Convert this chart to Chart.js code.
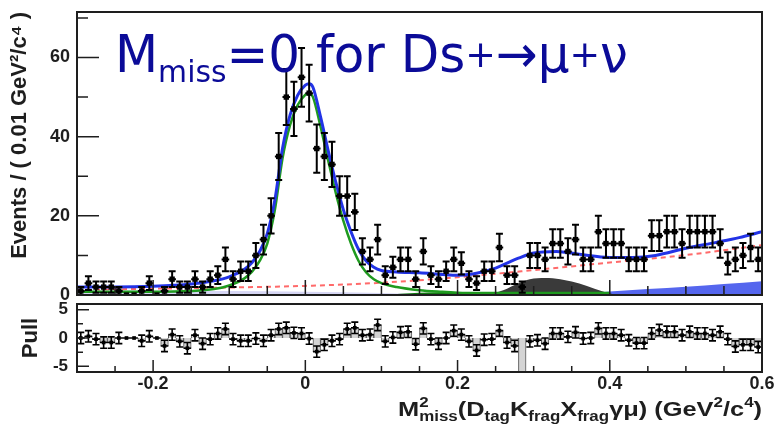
<!DOCTYPE html>
<html>
<head>
<meta charset="utf-8">
<script src="https://cdn.jsdelivr.net/npm/chart.js@4.4.0/dist/chart.umd.min.js"></script>
<style>
  html, body { margin: 0; padding: 0; background: #fff; }
  #wrap { position: relative; width: 779px; height: 433px; }
  #mainChart { position: absolute; left: 0; top: 0; }
  #pullChart { position: absolute; left: 0; top: 300px; }
</style>
</head>
<body>
<div id="wrap">
  <canvas id="mainChart" width="779" height="300"></canvas>
  <canvas id="pullChart" width="779" height="133"></canvas>
</div>
<script>
// Datos: bins de 0.01 GeV²/c⁴ entre -0.3 y 0.6
const binCenters = [
  -0.295, -0.285, -0.275, -0.265, -0.255, -0.245, -0.235, -0.225, -0.215, -0.205,
  -0.195, -0.185, -0.175, -0.165, -0.155, -0.145, -0.135, -0.125, -0.115, -0.105,
  -0.095, -0.085, -0.075, -0.065, -0.055, -0.045, -0.035, -0.025, -0.015, -0.005,
  0.005, 0.015, 0.025, 0.035, 0.045, 0.055, 0.065, 0.075, 0.085, 0.095,
  0.105, 0.115, 0.125, 0.135, 0.145, 0.155, 0.165, 0.175, 0.185, 0.195,
  0.205, 0.215, 0.225, 0.235, 0.245, 0.255, 0.265, 0.275, 0.285, 0.295,
  0.305, 0.315, 0.325, 0.335, 0.345, 0.355, 0.365, 0.375, 0.385, 0.395,
  0.405, 0.415, 0.425, 0.435, 0.445, 0.455, 0.465, 0.475, 0.485, 0.495,
  0.505, 0.515, 0.525, 0.535, 0.545, 0.555, 0.565, 0.575, 0.585, 0.595
];
const counts = [
  1, 3, 2, 2, 2, 1, 0, 0, 1, 3,
  0, 1, 4, 2, 2, 4, 2, 4, 5, 9,
  4, 6, 6, 10, 14, 20, 35, 50, 47, 55,
  51, 37, 35, 33, 25, 25, 21, 11, 9, 14,
  5, 7, 9, 9, 4, 11, 5, 4, 6, 9,
  8, 4, 3, 6, 6, 12, 5, 5, 2, 10,
  10, 9, 13, 13, 11, 14, 9, 9, 16, 13,
  13, 13, 9, 9, 9, 15, 15, 16, 16, 13,
  16, 16, 16, 16, 13, 8, 9, 10, 12, 9
];
const pulls = [
  0, 0.3, -0.2, -0.8, -0.8, 0, 0, 0, -0.5, 0.3,
  0, -1.4, 0.6, -0.6, -1.8, 0.5, -1.0, -0.2, 0.8, 1.6,
  -0.2, -0.5, -0.5, -0.1, -0.5, 0.5, 1.6, 1.8, 0.9, 0.8,
  -0.1, -2.4, -1.2, -0.5, -0.2, 1.6, 1.8, 0.5, 0.6, 2.3,
  -0.6, 0.1, 1.0, 1.1, -1.1, 1.7, -0.2, -1.0, 0, 1.3,
  0.6, -0.6, -2.2, -0.3, -0.2, 1.3, -0.8, -1.4, -7.0, -0.6,
  -0.4, -1.0, 0.8, 0.8, 0.2, 1.0, -0.1, 0, 1.7, 0.8,
  0.8, 0.5, -0.4, -0.9, -0.9, 0.8, 1.4, 1.1, 1.1, 0.5,
  1.1, 0.8, 0.8, 0.5, 1.1, -0.2, -1.5, -1.2, -1.2, -1.6
];

const curveX = [-0.30, -0.25, -0.20, -0.15, -0.12, -0.10, -0.08, -0.07, -0.06, -0.05,
  -0.04, -0.03, -0.02, -0.01, 0.00, 0.005, 0.01, 0.02, 0.03, 0.04,
  0.05, 0.06, 0.07, 0.08, 0.09, 0.10, 0.12, 0.15, 0.18, 0.20,
  0.22, 0.25, 0.28, 0.30, 0.33, 0.36, 0.40, 0.43, 0.46, 0.50,
  0.54, 0.57, 0.60];
const totalFit = [2.0, 2.0, 2.2, 2.8, 3.6, 4.6, 6.5, 8.2, 11.0, 15.5,
  24.0, 37.0, 45.5, 50.5, 53.0, 53.4, 52.5, 45.0, 36.5, 28.5,
  21.5, 16.0, 11.5, 8.6, 7.0, 6.2, 5.8, 5.6, 5.2, 5.0,
  5.3, 6.8, 9.3, 10.6, 11.0, 10.3, 9.5, 9.5, 10.0, 11.8,
  13.3, 14.5, 16.0];
const signalFit = [0.8, 0.8, 0.8, 1.0, 1.5, 2.4, 4.2, 5.9, 8.6, 13.0,
  21.5, 34.5, 43.0, 48.0, 50.6, 51.0, 50.0, 42.5, 34.0, 25.8,
  18.7, 13.0, 8.6, 5.7, 4.0, 3.0, 2.0, 1.2, 0.8, 0.6,
  0.5, 0.5, 0.5, 0.5, 0.5, 0.5, 0.5];
const bgX = [-0.3, -0.2, -0.1, 0.0, 0.1, 0.2, 0.3, 0.4, 0.5, 0.6];
const bgFit = [1.3, 1.6, 1.9, 2.3, 3.1, 4.5, 6.3, 8.2, 10.1, 12.6];
const grayX = [0.24, 0.26, 0.28, 0.30, 0.32, 0.34, 0.36, 0.38, 0.40, 0.41];
const grayFit = [0, 1.2, 3.0, 4.2, 4.3, 3.8, 2.9, 1.6, 0.4, 0];
const greenBandX = [0.10, 0.15, 0.20, 0.30, 0.38, 0.42];
const greenBand = [0, 0.6, 0.7, 0.7, 0.6, 0];
const blueBandX = [0.30, 0.36, 0.40, 0.45, 0.50, 0.55, 0.60];
const blueBand = [0, 0.3, 0.9, 1.5, 2.1, 2.8, 3.5];
const lavBandX = [-0.30, -0.20, -0.10, 0.00, 0.10, 0.15, 0.20];
const lavBand = [1.2, 1.1, 1.0, 0.8, 0.5, 0.2, 0];

// Ejes
const xTickValues = [-0.2, 0, 0.2, 0.4, 0.6];
const xTickLabels = ['-0.2', '0', '0.2', '0.4', '0.6'];
const xMinorTicks = [-0.25, -0.15, -0.1, -0.05, 0.05, 0.1, 0.15, 0.25, 0.3, 0.35, 0.45, 0.5, 0.55];
const yTickValues = [0, 20, 40, 60];
const yTickLabels = ['0', '20', '40', '60'];
const yMinorTicks = [10, 30, 50, 70];
const pullTickValues = [-5, 0, 5];
const pullTickLabels = ['-5', '0', '5'];
const pullMinorTicks = [-2.5, 2.5];

const binWidth = 0.01;
const axisFont = 'Liberation Sans';
const inkColor = '#1e1e1e';

const pts = (xs, ys) => ys.map((v, i) => ({ x: xs[i], y: v }));

// Quita el relleno automático que Chart.js añade por las etiquetas de los extremos
const noEdgePadding = s => {
  s.paddingTop = 0; s.paddingBottom = 0; s.paddingLeft = 0; s.paddingRight = 0;
};

// Barras de error (verticales con topes + ancho del bin)
const errorBars = {
  id: 'errorBars',
  beforeDatasetDraw(chart, args) {
    const ds = chart.data.datasets[args.index];
    if (!ds.errors) return;
    const { ctx, chartArea: a } = chart;
    const x = chart.scales.x, y = chart.scales.y;
    ctx.save();
    ctx.beginPath();
    ctx.rect(a.left, a.top, a.right - a.left, a.bottom - a.top);
    ctx.clip();
    ctx.strokeStyle = '#000';
    ctx.lineWidth = ds.errWidth || 1.5;
    ctx.beginPath();
    ds.data.forEach((p, i) => {
      const e = ds.errors[i];
      const px = x.getPixelForValue(p.x);
      const py = y.getPixelForValue(p.y);
      ctx.moveTo(x.getPixelForValue(p.x - binWidth / 2), py);
      ctx.lineTo(x.getPixelForValue(p.x + binWidth / 2), py);
      if (e > 0) {
        const yt = y.getPixelForValue(p.y + e);
        const yb = y.getPixelForValue(p.y - e);
        ctx.moveTo(px, yt); ctx.lineTo(px, yb);
        ctx.moveTo(px - 3.5, yt); ctx.lineTo(px + 3.5, yt);
        ctx.moveTo(px - 3.5, yb); ctx.lineTo(px + 3.5, yb);
      }
    });
    ctx.stroke();
    ctx.restore();
  }
};

// Marco y marcas hacia dentro, estilo ROOT
function makeFrame(cfg) {
  return {
    id: 'frame',
    afterDraw(chart) {
      const { ctx, chartArea: a } = chart;
      const x = chart.scales.x, y = chart.scales.y;
      ctx.save();
      ctx.strokeStyle = inkColor;
      ctx.lineWidth = 1.5;
      ctx.beginPath();
      const xt = (vals, len) => vals.forEach(v => {
        const px = x.getPixelForValue(v);
        ctx.moveTo(px, a.bottom); ctx.lineTo(px, a.bottom - len);
      });
      const yt = (vals, len) => vals.forEach(v => {
        const py = y.getPixelForValue(v);
        if (py < a.top || py > a.bottom) return;
        ctx.moveTo(a.left, py); ctx.lineTo(a.left + len, py);
      });
      xt(xTickValues, cfg.xMajor);
      xt(xMinorTicks, cfg.xMinor);
      yt(cfg.yMajorVals, cfg.yMajor);
      yt(cfg.yMinorVals, cfg.yMinor);
      ctx.stroke();
      ctx.lineWidth = 2;
      ctx.strokeRect(a.left, a.top, a.right - a.left, a.bottom - a.top);
      ctx.restore();
    }
  };
}

// Texto con sub/superíndices, ajustado a un ancho
function drawRuns(ctx, runs, x0, baseY, width, family, weight, color) {
  const fontOf = s => `${weight} ${s}px "${family}"`;
  const widths = runs.map(r => {
    ctx.font = fontOf(r.size);
    let w = ctx.measureText(r.t).width;
    if (r.t2) w = Math.max(w, ctx.measureText(r.t2).width);
    return w;
  });
  const total = widths.reduce((s, w) => s + w, 0);
  ctx.save();
  ctx.fillStyle = color;
  ctx.textBaseline = 'alphabetic';
  ctx.translate(x0, baseY);
  ctx.scale(width / total, 1);
  let cx = 0;
  runs.forEach((r, i) => {
    ctx.font = fontOf(r.size);
    ctx.fillText(r.t, cx, r.dy || 0);
    if (r.t2) ctx.fillText(r.t2, cx, r.dy2 || 0);
    cx += widths[i];
  });
  ctx.restore();
}

const overlayText = {
  id: 'overlayText',
  afterDraw(chart) {
    drawRuns(chart.ctx, [
      { t: 'M', size: 52 },
      { t: 'miss', size: 31, dy: 10 },
      { t: '=0 for Ds', size: 52 },
      { t: '+', size: 38, dy: -5 },
      { t: '→μ', size: 52 },
      { t: '+', size: 38, dy: -5 },
      { t: 'ν', size: 52 }
    ], 115, 72, 513, 'DejaVu Sans', 'normal', '#0b0b98');
  }
};

const xTitle = {
  id: 'xTitle',
  afterDraw(chart) {
    drawRuns(chart.ctx, [
      { t: 'M', size: 21 },
      { t: '2', size: 14, dy: -9, t2: 'miss', dy2: 5 },
      { t: '(D', size: 21 },
      { t: 'tag', size: 14, dy: 5 },
      { t: 'K', size: 21 },
      { t: 'frag', size: 14, dy: 5 },
      { t: 'X', size: 21 },
      { t: 'frag', size: 14, dy: 5 },
      { t: 'γμ) (GeV', size: 21 },
      { t: '2', size: 14, dy: -9 },
      { t: '/c', size: 21 },
      { t: '4', size: 14, dy: -9 },
      { t: ')', size: 21 }
    ], 398, 116, 364, axisFont, 'bold', inkColor);
  }
};

const lineBase = { type: 'line', pointRadius: 0, cubicInterpolationMode: 'monotone', fill: false };

// Panel principal
new Chart(document.getElementById('mainChart'), {
  type: 'scatter',
  data: {
    datasets: [
      { type: 'scatter', data: pts(binCenters, counts), errors: counts.map(Math.sqrt), errWidth: 2,
        pointStyle: 'rect', pointRadius: 3.8, backgroundColor: '#000', borderWidth: 0 },
      { ...lineBase, data: pts(curveX, totalFit), borderColor: '#2233e6', borderWidth: 3 },
      { ...lineBase, data: pts(curveX, signalFit), borderColor: '#1f9a1f', borderWidth: 2.5 },
      { ...lineBase, data: pts(bgX, bgFit), borderColor: '#ff6a6a', borderWidth: 2, borderDash: [5, 4] },
      { ...lineBase, data: pts(greenBandX, greenBand), borderWidth: 0, fill: 'origin', backgroundColor: '#137a13' },
      { ...lineBase, data: pts(grayX, grayFit), borderWidth: 0, fill: 'origin', backgroundColor: '#3a3a3a' },
      { ...lineBase, data: pts(blueBandX, blueBand), borderWidth: 0, fill: 'origin', backgroundColor: '#5566ee' },
      { ...lineBase, data: pts(lavBandX, lavBand), borderWidth: 0, fill: 'origin', backgroundColor: '#d6d6f4' }
    ]
  },
  options: {
    responsive: false,
    animation: false,
    layout: { autoPadding: false, padding: { top: 12, right: 17, bottom: 5, left: 0 } },
    plugins: { legend: { display: false }, tooltip: { enabled: false } },
    scales: {
      x: { type: 'linear', min: -0.3, max: 0.6, display: false },
      y: {
        min: 0, max: 71.5,
        afterBuildTicks: s => { s.ticks = yTickValues.map(v => ({ value: v })); },
        afterFit: s => { s.width = 77; noEdgePadding(s); },
        grid: { display: false, drawTicks: false },
        border: { display: false },
        ticks: { callback: (v, i) => yTickLabels[i], color: inkColor, padding: 7,
          font: { family: axisFont, weight: 'bold', size: 18 } },
        title: { display: true, text: 'Events / ( 0.01 GeV²/c⁴ )', align: 'end', color: inkColor,
          padding: { top: 7, bottom: 0 }, font: { family: axisFont, weight: 'bold', size: 22 } }
      }
    }
  },
  plugins: [errorBars, makeFrame({ xMajor: 15, xMinor: 9, yMajor: 22, yMinor: 11,
    yMajorVals: yTickValues, yMinorVals: yMinorTicks }), overlayText]
});

// Panel de pulls
new Chart(document.getElementById('pullChart'), {
  type: 'scatter',
  data: {
    datasets: [
      { type: 'scatter', data: pts(binCenters, pulls), errors: counts.map(c => (c > 0 ? 1 : 0)), errWidth: 1.6,
        pointStyle: 'rect', pointRadius: 2.6, backgroundColor: '#000', borderWidth: 0 },
      { type: 'bar', data: pts(binCenters, pulls), backgroundColor: '#d4d4d4', borderColor: '#555',
        borderWidth: 1, barPercentage: 1, categoryPercentage: 1 }
    ]
  },
  options: {
    responsive: false,
    animation: false,
    layout: { autoPadding: false, padding: { top: 4, right: 17, bottom: 0, left: 0 } },
    plugins: { legend: { display: false }, tooltip: { enabled: false } },
    scales: {
      x: {
        type: 'linear', min: -0.3, max: 0.6, offset: false,
        afterBuildTicks: s => { s.ticks = xTickValues.map(v => ({ value: v })); },
        afterFit: s => { s.height = 61; noEdgePadding(s); },
        grid: { display: false, drawTicks: false },
        border: { display: false },
        ticks: { callback: (v, i) => xTickLabels[i], color: inkColor, padding: 1,
          maxRotation: 0, autoSkip: false, font: { family: axisFont, weight: 'bold', size: 18 } }
      },
      y: {
        min: -6, max: 6,
        afterBuildTicks: s => { s.ticks = pullTickValues.map(v => ({ value: v })); },
        afterFit: s => { s.width = 77; noEdgePadding(s); },
        grid: { display: false, drawTicks: false },
        border: { display: false },
        ticks: { callback: (v, i) => pullTickLabels[i], color: inkColor, padding: 9,
          font: { family: axisFont, weight: 'bold', size: 17 } },
        title: { display: true, text: 'Pull', color: inkColor, padding: { top: 18, bottom: 0 },
          font: { family: axisFont, weight: 'bold', size: 22 } }
      }
    }
  },
  plugins: [errorBars, makeFrame({ xMajor: 12, xMinor: 6, yMajor: 12, yMinor: 6,
    yMajorVals: pullTickValues, yMinorVals: pullMinorTicks }), xTitle]
});
</script>
</body>
</html>
